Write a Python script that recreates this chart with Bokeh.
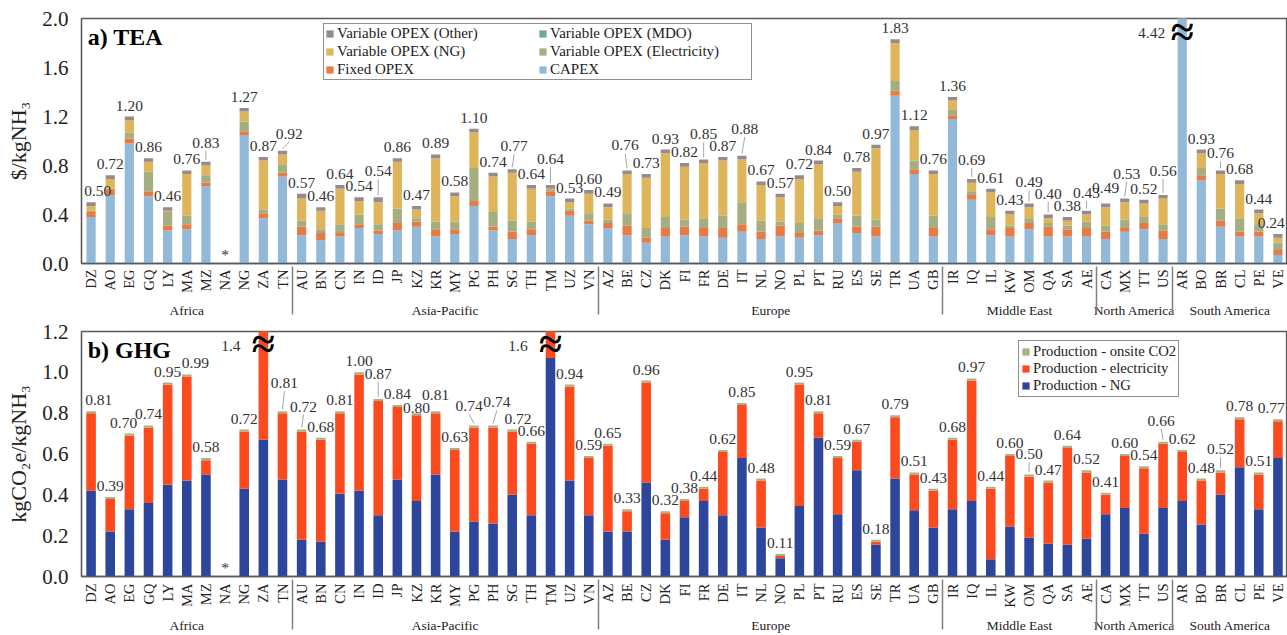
import math
from bokeh.plotting import figure
from bokeh.models import (ColumnDataSource, FactorRange, Range1d, FixedTicker,
                          PrintfTickFormatter, Legend, LegendItem, Label)
from bokeh.layouts import column
from bokeh.embed import file_html
from bokeh.resources import INLINE
from bokeh.core.properties import value

# ---------------- data ----------------
region_names = ["Africa", "Asia-Pacific", "Europe", "Middle East", "North America", "South America"]
region_sizes = [11, 16, 18, 8, 4, 6]
countries = ["DZ", "AO", "EG", "GQ", "LY", "MA", "MZ", "NA", "NG", "ZA", "TN",
             "AU", "BN", "CN", "IN", "ID", "JP", "KZ", "KR", "MY", "PG", "PH", "SG", "TH", "TM", "UZ", "VN",
             "AZ", "BE", "CZ", "DK", "FI", "FR", "DE", "IT", "NL", "NO", "PL", "PT", "RU", "ES", "SE", "TR", "UA", "GB",
             "IR", "IQ", "IL", "KW", "OM", "QA", "SA", "AE",
             "CA", "MX", "TT", "US",
             "AR", "BO", "BR", "CL", "PE", "VE"]

# a) TEA, $/kgNH3
tea_capex = [0.38, 0.56, 0.98, 0.55, 0.27, 0.28, 0.63, 0.0, 1.05, 0.37, 0.71,
             0.23, 0.19, 0.22, 0.29, 0.24, 0.27, 0.30, 0.22, 0.24, 0.47, 0.27, 0.20, 0.23, 0.55, 0.39, 0.32,
             0.29, 0.23, 0.17, 0.22, 0.23, 0.22, 0.21, 0.26, 0.20, 0.22, 0.21, 0.23, 0.33, 0.25, 0.22, 1.37, 0.73, 0.22,
             1.18, 0.52, 0.23, 0.22, 0.28, 0.22, 0.22, 0.22,
             0.20, 0.26, 0.28, 0.20,
             4.30, 0.68, 0.30, 0.22, 0.22, 0.07]
tea_fixed = [0.04, 0.04, 0.04, 0.04, 0.04, 0.04, 0.03, 0.0, 0.03, 0.04, 0.03,
             0.07, 0.06, 0.03, 0.03, 0.03, 0.06, 0.04, 0.06, 0.04, 0.04, 0.03, 0.06, 0.05, 0.04, 0.04, 0.03,
             0.04, 0.08, 0.04, 0.07, 0.07, 0.07, 0.08, 0.06, 0.06, 0.09, 0.04, 0.04, 0.04, 0.05, 0.08, 0.04, 0.04, 0.07,
             0.03, 0.04, 0.05, 0.07, 0.05, 0.08, 0.06, 0.07,
             0.06, 0.03, 0.05, 0.07,
             0.03, 0.04, 0.05, 0.04, 0.04, 0.04]
tea_elec = [0.01, 0.01, 0.05, 0.16, 0.11, 0.07, 0.06, 0.0, 0.08, 0.03, 0.07,
            0.05, 0.03, 0.07, 0.08, 0.05, 0.12, 0.03, 0.06, 0.06, 0.27, 0.12, 0.09, 0.06, 0.01, 0.02, 0.06,
            0.03, 0.10, 0.08, 0.09, 0.06, 0.08, 0.10, 0.18, 0.09, 0.03, 0.08, 0.10, 0.03, 0.09, 0.06, 0.08, 0.07, 0.10,
            0.05, 0.03, 0.10, 0.02, 0.04, 0.03, 0.03, 0.05,
            0.05, 0.07, 0.05, 0.05,
            0.03, 0.06, 0.10, 0.11, 0.06, 0.06]
tea_mdo = [0.0, 0.0, 0.0, 0.0, 0.0, 0.0, 0.0, 0.0, 0.0, 0.0, 0.0,
           0.0, 0.0, 0.0, 0.0, 0.0, 0.0, 0.0, 0.0, 0.0, 0.0, 0.0, 0.0, 0.0, 0.0, 0.0, 0.0,
           0.0, 0.0, 0.0, 0.0, 0.0, 0.0, 0.0, 0.0, 0.0, 0.0, 0.0, 0.0, 0.0, 0.0, 0.0, 0.0, 0.0, 0.0,
           0.0, 0.0, 0.0, 0.0, 0.0, 0.0, 0.0, 0.0,
           0.0, 0.0, 0.0, 0.0,
           0.0, 0.0, 0.0, 0.0, 0.0, 0.0]
tea_ng = [0.04, 0.08, 0.10, 0.08, 0.01, 0.34, 0.08, 0.0, 0.08, 0.40, 0.08,
          0.18, 0.15, 0.29, 0.11, 0.18, 0.38, 0.07, 0.52, 0.21, 0.29, 0.29, 0.39, 0.27, 0.01, 0.05, 0.16,
          0.10, 0.32, 0.41, 0.52, 0.43, 0.45, 0.45, 0.35, 0.29, 0.20, 0.36, 0.44, 0.07, 0.36, 0.58, 0.31, 0.25, 0.34,
          0.07, 0.07, 0.20, 0.09, 0.09, 0.04, 0.04, 0.06,
          0.15, 0.14, 0.11, 0.21,
          0.03, 0.12, 0.28, 0.28, 0.09, 0.04]
tea_other = [0.03, 0.03, 0.03, 0.03, 0.03, 0.03, 0.03, 0.0, 0.03, 0.03, 0.03,
             0.04, 0.03, 0.03, 0.03, 0.04, 0.03, 0.03, 0.03, 0.03, 0.03, 0.03, 0.03, 0.03, 0.03, 0.03, 0.03,
             0.03, 0.03, 0.03, 0.03, 0.03, 0.03, 0.03, 0.03, 0.03, 0.03, 0.03, 0.03, 0.03, 0.03, 0.03, 0.03, 0.03, 0.03,
             0.03, 0.03, 0.03, 0.03, 0.03, 0.03, 0.03, 0.03,
             0.03, 0.03, 0.03, 0.03,
             0.03, 0.03, 0.03, 0.03, 0.03, 0.03]

# b) GHG, kgCO2e/kgNH3
ghg_ng = [0.42, 0.22, 0.33, 0.36, 0.45, 0.47, 0.50, 0.0, 0.43, 0.67, 0.475,
          0.18, 0.17, 0.405, 0.42, 0.30, 0.475, 0.37, 0.50, 0.22, 0.27, 0.26, 0.40, 0.30, 1.07, 0.47, 0.30,
          0.22, 0.22, 0.46, 0.18, 0.29, 0.37, 0.30, 0.58, 0.24, 0.09, 0.345, 0.68, 0.305, 0.52, 0.155, 0.48, 0.325, 0.24,
          0.33, 0.37, 0.085, 0.245, 0.19, 0.16, 0.155, 0.185,
          0.305, 0.335, 0.21, 0.335,
          0.37, 0.255, 0.40, 0.535, 0.33, 0.58]
ghg_elec = [0.38, 0.16, 0.36, 0.37, 0.49, 0.51, 0.07, 0.0, 0.28, 0.72, 0.325,
            0.53, 0.50, 0.395, 0.57, 0.56, 0.355, 0.42, 0.30, 0.40, 0.46, 0.47, 0.31, 0.35, 0.52, 0.46, 0.28,
            0.42, 0.10, 0.49, 0.13, 0.08, 0.06, 0.31, 0.26, 0.23, 0.01, 0.595, 0.12, 0.275, 0.14, 0.015, 0.30, 0.175, 0.18,
            0.34, 0.59, 0.345, 0.345, 0.30, 0.30, 0.475, 0.325,
            0.095, 0.255, 0.32, 0.315,
            0.24, 0.215, 0.11, 0.235, 0.17, 0.18]
ghg_co2 = [0.01, 0.01, 0.01, 0.01, 0.01, 0.01, 0.01, 0.0, 0.01, 0.01, 0.01,
           0.01, 0.01, 0.01, 0.01, 0.01, 0.01, 0.01, 0.01, 0.01, 0.01, 0.01, 0.01, 0.01, 0.01, 0.01, 0.01,
           0.01, 0.01, 0.01, 0.01, 0.01, 0.01, 0.01, 0.01, 0.01, 0.01, 0.01, 0.01, 0.01, 0.01, 0.01, 0.01, 0.01, 0.01,
           0.01, 0.01, 0.01, 0.01, 0.01, 0.01, 0.01, 0.01,
           0.01, 0.01, 0.01, 0.01,
           0.01, 0.01, 0.01, 0.01, 0.01, 0.01]

tea_yticks = [0.0, 0.4, 0.8, 1.2, 1.6, 2.0]
ghg_yticks = [0.0, 0.2, 0.4, 0.6, 0.8, 1.0, 1.2]

# ---------------- layout of data labels (offset along x in bar widths, extra lift in px) ----------------
tea_label_shift = {"DZ": (0.35, 0), "MZ": (0, 8), "TN": (0.35, 6), "ID": (0, 15), "SG": (0.1, 12),
                   "TM": (0, 15), "BE": (-0.1, 14), "FR": (0, 14), "IT": (0.15, 16), "IQ": (0, 8),
                   "OM": (0, 10), "QA": (0, 10), "AE": (0, 7), "CA": (0, 4), "MX": (0.1, 14),
                   "US": (0, 13), "BR": (0, 6), "VE": (-0.35, 0)}
ghg_label_shift = {"DZ": (0.4, 0), "EG": (-0.3, 0), "MA": (0.45, 0), "TN": (0.1, 17), "AU": (0.1, 12),
                   "ID": (0, 14), "KZ": (0, -6), "KR": (0, 5), "PG": (-0.25, 8), "PH": (0.2, 12),
                   "SG": (0.3, 0), "OM": (0, 9), "US": (-0.1, 10), "BR": (0, 10), "VE": (-0.35, 0)}

FONT = "Liberation Serif"

regions = [r for r, n in zip(region_names, region_sizes) for _ in range(n)]
factors = list(zip(regions, countries))


def make_fig(height, ymax, yticks, ylabel, border_top, border_bottom, label_standoff):
    p = figure(x_range=FactorRange(factors=factors, group_padding=0, subgroup_padding=0,
                                   factor_padding=0, range_padding=0),
               y_range=Range1d(0, ymax), width=1287, height=height,
               output_backend="svg", toolbar_location=None,
               min_border_left=81, min_border_right=0, min_border_top=border_top,
               min_border_bottom=border_bottom)
    p.xgrid.grid_line_color = None
    p.ygrid.grid_line_color = None
    p.outline_line_color = "#595959"
    p.outline_line_width = 1.3
    p.background_fill_color = "white"
    p.border_fill_color = "white"

    xa = p.xaxis[0]
    xa.major_label_orientation = math.pi / 2
    xa.group_label_orientation = "horizontal"
    xa.major_label_text_font = FONT
    xa.major_label_text_font_size = "14.5px"
    xa.major_label_text_color = "#222222"
    xa.group_text_font = FONT
    xa.group_text_font_size = "13.5px"
    xa.group_text_font_style = "normal"
    xa.group_text_color = "#222222"
    xa.separator_line_color = "#808080"
    xa.separator_line_width = 1.5
    xa.major_tick_line_color = None
    xa.minor_tick_line_color = None
    xa.major_tick_out = 0
    xa.major_label_standoff = label_standoff
    xa.axis_line_color = "#595959"
    xa.axis_line_width = 1.3

    ya = p.yaxis[0]
    ya.ticker = FixedTicker(ticks=yticks)
    ya.formatter = PrintfTickFormatter(format="%.1f")
    ya.major_label_text_font = FONT
    ya.major_label_text_font_size = "21px"
    ya.major_label_text_color = "#222222"
    ya.major_tick_line_color = None
    ya.minor_tick_line_color = None
    ya.major_tick_out = 0
    ya.major_label_standoff = 13
    ya.axis_line_color = "#595959"
    ya.axis_line_width = 1.3
    ya.axis_label = ylabel
    ya.axis_label_text_font = FONT
    ya.axis_label_text_font_size = "22px"
    ya.axis_label_text_font_style = "normal"
    ya.axis_label_text_color = "#222222"
    ya.axis_label_standoff = 8
    return p


def add_labels(p, totals, ymax, ppu, shifts, clip_fmt, clip_dx, brk_dy):
    lx, ly, lt, lo = [], [], [], []
    seg = dict(x0=[], y0=[], x1=[], y1=[])
    for i, (f, t) in enumerate(zip(factors, totals)):
        t = round(t, 2)
        dx, lift = shifts.get(f[1], (0.0, 0))
        if t <= 0:
            lx.append(f); ly.append(0.0); lt.append("*"); lo.append(-9)
        elif t > ymax:
            lx.append((f[0], f[1], clip_dx)); ly.append(ymax); lt.append(clip_fmt % t); lo.append(14)
            # axis-break mark at the top of a bar that leaves the range
            p.add_layout(Label(x=i + 0.5, y=ymax, y_offset=-brk_dy, text="\u2248",
                               text_font=FONT, text_font_size="42px", text_font_style="bold",
                               text_color="black", text_align="center", text_baseline="middle"))
        else:
            lx.append((f[0], f[1], dx)); ly.append(t); lt.append("%.2f" % t); lo.append(-(11 + lift))
            if lift >= 6:
                seg["x0"].append((f[0], f[1], 0.0)); seg["y0"].append(t + 2.0 / ppu)
                seg["x1"].append((f[0], f[1], dx)); seg["y1"].append(t + (lift + 3.0) / ppu)
    p.segment(x0="x0", y0="y0", x1="x1", y1="y1", source=ColumnDataSource(seg),
              line_color="#A6A6A6", line_width=1)
    p.text(x="x", y="y", text="t", y_offset="o",
           source=ColumnDataSource(dict(x=lx, y=ly, t=lt, o=lo)),
           text_font=value(FONT), text_font_size="15.5px", text_color="#333333",
           text_align="center", text_baseline="middle")


# ---------------- a) TEA ----------------
tea_keys = ["capex", "fixed", "elec", "mdo", "ng", "other"]
tea_labels = ["CAPEX", "Fixed OPEX", "Variable OPEX (Electricity)", "Variable OPEX (MDO)",
              "Variable OPEX (NG)", "Variable OPEX (Other)"]
tea_colors = ["#92B9D8", "#E77B45", "#A4AE80", "#6FA896", "#DEB55A", "#958A8F"]
src1 = ColumnDataSource(dict(x=factors, capex=tea_capex, fixed=tea_fixed, elec=tea_elec,
                             mdo=tea_mdo, ng=tea_ng, other=tea_other))
p1 = make_fig(320, 2.0, tea_yticks, "$/kgNH\u2083", 18, 55, 6)
r1 = p1.vbar_stack(tea_keys, x="x", width=0.48, color=tea_colors, line_color=None, source=src1)
tea_tot = [sum(v) for v in zip(tea_capex, tea_fixed, tea_elec, tea_mdo, tea_ng, tea_other)]
add_labels(p1, tea_tot, 2.0, 123.0, tea_label_shift, "%.2f", -1.6, 13)
p1.text(x=[("Africa", "DZ", -0.18)], y=[2.0], text=["a) TEA"], y_offset=5,
        text_font=value(FONT), text_font_size="24px", text_font_style="bold",
        text_color="black", text_align="left", text_baseline="top")
rmap = dict(zip(tea_labels, r1))
order1 = ["Variable OPEX (Other)", "Variable OPEX (NG)", "Fixed OPEX",
          "Variable OPEX (MDO)", "Variable OPEX (Electricity)", "CAPEX"]
leg1 = Legend(items=[LegendItem(label=n, renderers=[rmap[n]]) for n in order1],
              location=(242, 183), ncols=2,
              label_text_font=FONT, label_text_font_size="15px", label_text_color="#222222",
              glyph_width=9, glyph_height=9, label_height=16, label_standoff=3, label_width=200,
              spacing=1, padding=1, margin=0, border_line_color="#222222", border_line_width=1,
              background_fill_color="white", background_fill_alpha=1)
p1.add_layout(leg1)

# ---------------- b) GHG ----------------
ghg_keys = ["ng", "elec", "co2"]
ghg_labels = ["Production - NG", "Production - electricity", "Production - onsite CO2"]
ghg_colors = ["#2D469B", "#FC4A1F", "#A8B287"]
src2 = ColumnDataSource(dict(x=factors, ng=ghg_ng, elec=ghg_elec, co2=ghg_co2))
p2 = make_fig(315, 1.2, ghg_yticks, "kgCO\u2082e/kgNH\u2083", 11, 59, 7)
r2 = p2.vbar_stack(ghg_keys, x="x", width=0.5, color=ghg_colors, line_color=None, source=src2)
ghg_tot = [sum(v) for v in zip(ghg_ng, ghg_elec, ghg_co2)]
add_labels(p2, ghg_tot, 1.2, 204.0, ghg_label_shift, "%.1f", -1.7, 12)
p2.text(x=[("Africa", "DZ", -0.18)], y=[1.2], text=["b) GHG"], y_offset=5,
        text_font=value(FONT), text_font_size="24px", text_font_style="bold",
        text_color="black", text_align="left", text_baseline="top")
rmap2 = dict(zip(ghg_labels, r2))
order2 = ["Production - onsite CO2", "Production - electricity", "Production - NG"]
leg2 = Legend(items=[LegendItem(label=n, renderers=[rmap2[n]]) for n in order2],
              location=(937, 179),
              label_text_font=FONT, label_text_font_size="14.7px", label_text_color="#222222",
              glyph_width=9, glyph_height=9, label_height=15, label_standoff=3,
              spacing=0, padding=2, margin=0, border_line_color="#222222", border_line_width=1,
              background_fill_color="white", background_fill_alpha=1)
p2.add_layout(leg2)

layout = column(p1, p2, spacing=0)
open("out.html", "w").write(file_html(layout, INLINE))
